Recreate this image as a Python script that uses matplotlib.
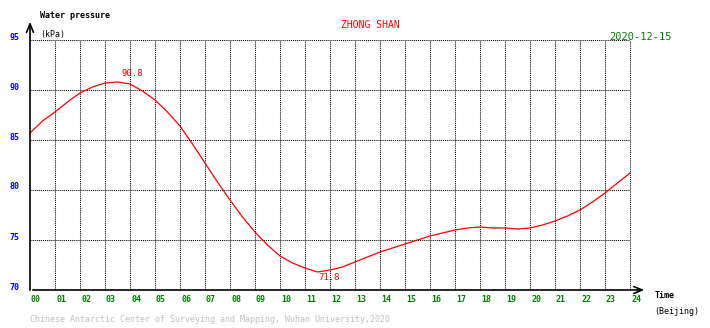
import numpy as np
import matplotlib
matplotlib.use("Agg")
import matplotlib.pyplot as plt

# water pressure (kPa), every half hour
hours = np.arange(0, 24.5, 0.5)
pressure = [85.7, 86.9, 87.8, 88.8, 89.7, 90.3, 90.7, 90.8, 90.6, 89.9,
            89.0, 87.8, 86.4, 84.6, 82.7, 80.8, 79.0, 77.3, 75.8, 74.5,
            73.4, 72.7, 72.2, 71.8, 72.0, 72.3, 72.8, 73.3, 73.8, 74.2,
            74.6, 75.0, 75.4, 75.7, 76.0, 76.2, 76.3, 76.2, 76.2, 76.1,
            76.2, 76.5, 76.9, 77.4, 78.0, 78.8, 79.7, 80.7, 81.7]
x_ticks = list(range(0, 25))
x_labels = ["%02d" % h for h in x_ticks]
y_ticks = [70, 75, 80, 85, 90, 95]
max_label = (3.5, 90.8)
min_label = (11.5, 71.8)

station = "ZHONG SHAN"
date = "2020-12-15"
credit = "Chinese Antarctic Center of Surveying and Mapping, Wuhan University,2020"

W, H = 710, 328
fig = plt.figure(figsize=(W / 100, H / 100), dpi=100)
fig.patch.set_facecolor("white")
mono = "DejaVu Sans Mono"
fs = 6

# plot area: hour 0..24 -> px 30..630, 70..95 kPa -> px 290..40
ax = fig.add_axes([30 / W, (H - 290) / H, 600 / W, 250 / H])
ax.set_xlim(0, 24)
ax.set_ylim(70, 95)
for s in ax.spines.values():
    s.set_visible(False)
ax.set_xticks([])
ax.set_yticks([])

dot = (0, (1, 1))
for h in x_ticks[1:]:
    ax.plot([h, h], [70, 95], color="black", lw=0.75, ls=dot, clip_on=False)
for v in y_ticks[1:]:
    ax.plot([0, 24], [v, v], color="black", lw=0.75, ls=dot, clip_on=False)

ax.plot(hours, pressure, color="red", lw=0.9, clip_on=False)
# labels sit a bit right of the extremes, as in the original
ax.text(max_label[0] + 0.6, max_label[1] + 0.45, "%.1f" % max_label[1],
        color="red", fontsize=6.5, family=mono, ha="center", va="bottom")
ax.text(min_label[0] + 0.45, min_label[1] - 0.1, "%.1f" % min_label[1],
        color="red", fontsize=6.5, family=mono, ha="center", va="top")

def px(x, y):
    return (x, H - y)

# axes with arrows
ax.annotate("", xy=px(30, 19), xytext=px(30, 293), xycoords="figure pixels",
            textcoords="figure pixels",
            arrowprops=dict(arrowstyle="->,head_length=0.6,head_width=0.25", color="black", lw=1.2))
ax.annotate("", xy=px(647, 290), xytext=px(30, 290), xycoords="figure pixels",
            textcoords="figure pixels",
            arrowprops=dict(arrowstyle="->,head_length=0.6,head_width=0.25", color="black", lw=1.2))

for h, lab in zip(x_ticks, x_labels):
    fig.text((31 + 25 * h) / W, 1 - 299 / H, lab, color="green", fontsize=fs,
             family=mono, ha="left", va="center", weight="bold")
for v in y_ticks:
    fig.text(20 / W, 1 - (290 - (v - 70) * 10 - 3) / H, str(v), color="blue",
             fontsize=fs, family=mono, ha="right", va="center", weight="bold")

fig.text(40 / W, 1 - 16 / H, "Water pressure", fontsize=fs, family=mono,
         ha="left", va="center", weight="bold")
fig.text(40 / W, 1 - 35 / H, "(kPa)", fontsize=fs, family=mono, ha="left", va="center")
fig.text(655 / W, 1 - 295 / H, "Time", fontsize=fs, family=mono, ha="left", va="center",
         weight="bold")
fig.text(654 / W, 1 - 311 / H, "(Beijing)", fontsize=fs, family=mono, ha="left", va="center")
fig.text(370 / W, 1 - 25 / H, station, color="red", fontsize=7, family=mono,
         ha="center", va="center")
fig.text(672 / W, 1 - 37 / H, date, color="green", fontsize=7.5, family=mono,
         ha="right", va="center")
fig.text(30 / W, 1 - 320 / H, credit, color="#c0c0c0", fontsize=fs, family=mono,
         ha="left", va="center")

fig.savefig("out.png", dpi=100, facecolor="white")
